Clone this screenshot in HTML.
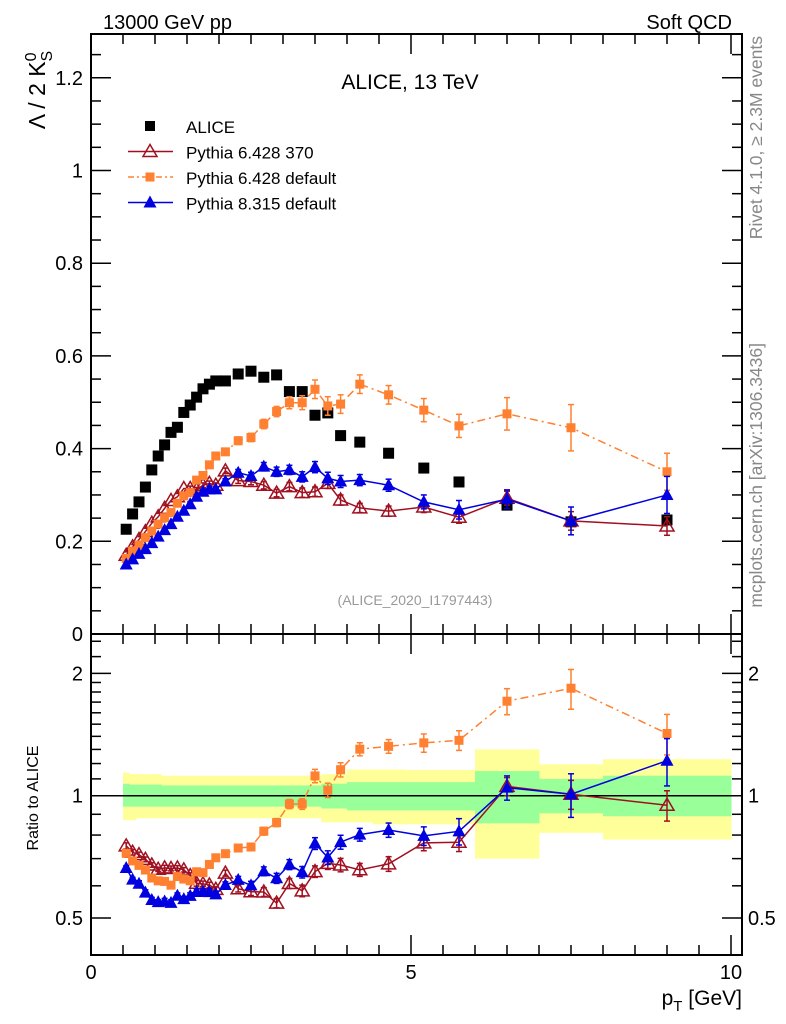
<!DOCTYPE html>
<html><head><meta charset="utf-8">
<style>
html,body{margin:0;padding:0;background:#fff;}
svg{display:block;font-family:"Liberation Sans",sans-serif;}
</style></head>
<body>
<svg id="chart" width="786" height="1024" viewBox="0 0 786 1024" xmlns="http://www.w3.org/2000/svg">
<g id="bands"></g>
<g id="grid"></g>
<g id="marks"></g>
<text x="103" y="29" font-size="20">13000 GeV pp</text>
<text x="732" y="29" font-size="20" text-anchor="end">Soft QCD</text>
<text x="410" y="89" font-size="21" text-anchor="middle">ALICE, 13 TeV</text>
<text x="415" y="605" font-size="14" fill="#999" text-anchor="middle">(ALICE_2020_I1797443)</text>
<text transform="translate(762,36) rotate(-90)" font-size="17.5" fill="#888" text-anchor="end">Rivet 4.1.0, ≥ 2.3M events</text>
<text transform="translate(762,343) rotate(-90)" font-size="17.5" fill="#888" text-anchor="end">mcplots.cern.ch [arXiv:1306.3436]</text>
<text transform="translate(45,90) rotate(-90)" font-size="23" text-anchor="middle">Λ / 2 K<tspan dy="-9" font-size="16">0</tspan><tspan dx="-9" dy="16" font-size="16">S</tspan></text>
<text transform="translate(38,798) rotate(-90)" font-size="16" text-anchor="middle">Ratio to ALICE</text>
<text x="742" y="1005" font-size="21" text-anchor="end">p<tspan dy="6" font-size="15">T</tspan><tspan dy="-6"> [GeV]</tspan></text>
<g id="legend"></g>
</svg>
<script>
const pT = [0.55,0.65,0.75,0.85,0.95,1.05,1.15,1.25,1.35,1.45,1.55,1.65,1.75,1.85,1.95,2.1,2.3,2.5,2.7,2.9,3.1,3.3,3.5,3.7,3.9,4.2,4.65,5.2,5.75,6.5,7.5,9.0];
const binLo = [0.5,0.6,0.7,0.8,0.9,1.0,1.1,1.2,1.3,1.4,1.5,1.6,1.7,1.8,1.9,2.0,2.2,2.4,2.6,2.8,3.0,3.2,3.4,3.6,3.8,4.0,4.4,4.9,5.5,6,7,8];
const binHi = [0.6,0.7,0.8,0.9,1.0,1.1,1.2,1.3,1.4,1.5,1.6,1.7,1.8,1.9,2.0,2.2,2.4,2.6,2.8,3.0,3.2,3.4,3.6,3.8,4.0,4.4,4.9,5.5,6.0,7,8,10];
const alice = [0.226,0.259,0.285,0.317,0.354,0.384,0.408,0.435,0.446,0.478,0.494,0.511,0.529,0.539,0.546,0.546,0.561,0.567,0.554,0.559,0.523,0.523,0.472,0.477,0.428,0.414,0.390,0.358,0.328,0.278,0.242,0.246];
const yellowHi = [1.14,1.13,1.13,1.13,1.13,1.13,1.12,1.12,1.12,1.12,1.12,1.12,1.12,1.12,1.12,1.12,1.12,1.12,1.12,1.12,1.12,1.12,1.12,1.13,1.13,1.16,1.16,1.157,1.157,1.30,1.195,1.23];
const yellowLo = [0.87,0.87,0.88,0.88,0.88,0.88,0.88,0.88,0.88,0.88,0.88,0.88,0.88,0.88,0.88,0.88,0.88,0.88,0.88,0.88,0.88,0.88,0.88,0.86,0.86,0.86,0.85,0.85,0.85,0.70,0.81,0.78];
const greenHi = [1.07,1.065,1.065,1.065,1.065,1.065,1.06,1.06,1.06,1.06,1.06,1.06,1.06,1.06,1.06,1.06,1.06,1.06,1.06,1.06,1.06,1.06,1.06,1.07,1.07,1.08,1.08,1.08,1.08,1.15,1.10,1.12];
const greenLo = [0.94,0.94,0.94,0.94,0.94,0.94,0.94,0.94,0.94,0.94,0.94,0.94,0.94,0.94,0.94,0.94,0.94,0.94,0.94,0.94,0.94,0.94,0.94,0.93,0.93,0.92,0.92,0.92,0.92,0.855,0.905,0.89];
const py6_370 = [0.170,0.188,0.204,0.221,0.239,0.253,0.271,0.288,0.296,0.314,0.314,0.311,0.321,0.325,0.321,0.352,0.331,0.329,0.321,0.304,0.318,0.305,0.307,0.325,0.289,0.272,0.265,0.274,0.252,0.293,0.244,0.233];
const py6_370err = [0.003,0.003,0.003,0.003,0.003,0.003,0.004,0.004,0.004,0.004,0.005,0.005,0.005,0.005,0.005,0.006,0.006,0.007,0.008,0.008,0.009,0.01,0.01,0.011,0.011,0.01,0.011,0.012,0.013,0.015,0.02,0.02];
const py6_def = [0.163,0.179,0.192,0.208,0.222,0.237,0.251,0.262,0.282,0.298,0.305,0.332,0.342,0.365,0.384,0.393,0.417,0.424,0.453,0.480,0.499,0.499,0.528,0.492,0.496,0.539,0.516,0.483,0.449,0.475,0.445,0.350];
const py6_defErr = [0.003,0.003,0.003,0.003,0.003,0.004,0.004,0.004,0.004,0.005,0.005,0.005,0.006,0.006,0.007,0.007,0.008,0.009,0.01,0.011,0.013,0.015,0.02,0.02,0.02,0.02,0.02,0.025,0.025,0.035,0.05,0.04];
const py8 = [0.150,0.161,0.173,0.183,0.196,0.210,0.224,0.237,0.253,0.266,0.280,0.296,0.307,0.312,0.312,0.329,0.348,0.341,0.361,0.350,0.354,0.339,0.360,0.336,0.329,0.332,0.321,0.285,0.268,0.291,0.244,0.300];
const py8err = [0.002,0.002,0.003,0.003,0.003,0.003,0.004,0.004,0.004,0.004,0.005,0.005,0.005,0.006,0.006,0.006,0.007,0.008,0.009,0.01,0.01,0.011,0.012,0.013,0.013,0.012,0.013,0.015,0.02,0.02,0.03,0.04];
const yTicks = [0,0.2,0.4,0.6,0.8,1,1.2];
const yTickLabels = ["0","0.2","0.4","0.6","0.8","1","1.2"];
const rTicks = [0.5,1,2];
const rTickLabels = ["0.5","1","2"];
const xTicks = [0,5,10];
const xTickLabels = ["0","5","10"];

const NS="http://www.w3.org/2000/svg";
const L=91,R=742,T=34,MID=634,B=955;
const X=v=>91+v*64;
const Y=v=>634-v*463.5;
const RY=v=>795.7-176.4*Math.log(v);
function mk(tag,attrs,parent){const e=document.createElementNS(NS,tag);for(const k in attrs)e.setAttribute(k,attrs[k]);parent.appendChild(e);return e;}
const bands=document.getElementById('bands'),grid=document.getElementById('grid'),marks=document.getElementById('marks'),legend=document.getElementById('legend');

for(let i=0;i<pT.length;i++){
  const y=mk('rect',{x:X(binLo[i]),y:RY(yellowHi[i]),width:X(binHi[i])-X(binLo[i])+0.5,height:RY(yellowLo[i])-RY(yellowHi[i]),fill:'#ffff99'},bands);
  
  
}
for(let i=0;i<pT.length;i++){
  const g=mk('rect',{x:X(binLo[i]),y:RY(greenHi[i]),width:X(binHi[i])-X(binLo[i])+0.5,height:RY(greenLo[i])-RY(greenHi[i]),fill:'#99ff99'},bands);
  
  
}
mk('line',{x1:L,x2:R,y1:RY(1),y2:RY(1),stroke:'#000','stroke-width':1.5},grid);

mk('rect',{x:L,y:T,width:R-L,height:MID-T,fill:'none',stroke:'#000','stroke-width':2},grid);
mk('rect',{x:L,y:MID,width:R-L,height:B-MID,fill:'none',stroke:'#000','stroke-width':2},grid);
for(let v=0;v<=1.29;v+=0.05){
  const major=Math.abs(v/0.2-Math.round(v/0.2))<1e-6;const len=major?20:10;const y=Y(v);
  mk('line',{x1:L,x2:L+len,y1:y,y2:y,stroke:'#000','stroke-width':1.5},grid);
  mk('line',{x1:R,x2:R-len,y1:y,y2:y,stroke:'#000','stroke-width':1.5},grid);
}
yTicks.forEach((v,i)=>{const t=mk('text',{x:L-8,y:Y(v)+7,'font-size':20,'text-anchor':'end'},grid);t.textContent=yTickLabels[i];

});
[0.5,0.6,0.7,0.8,0.9,1,1.1,1.2,1.3,1.4,1.5,1.6,1.7,1.8,1.9,2,2.2,2.4].forEach(v=>{
  const major=(v===0.5||v===1||v===2);const len=major?20:10;const y=RY(v);
  mk('line',{x1:L,x2:L+len,y1:y,y2:y,stroke:'#000','stroke-width':1.5},grid);
  mk('line',{x1:R,x2:R-len,y1:y,y2:y,stroke:'#000','stroke-width':1.5},grid);
});
rTicks.forEach((v,i)=>{
  const t=mk('text',{x:L-8,y:RY(v)+7,'font-size':20,'text-anchor':'end'},grid);t.textContent=rTickLabels[i];
  
  
  const t2=mk('text',{x:R+6,y:RY(v)+7,'font-size':20},grid);t2.textContent=rTickLabels[i];
  
  
});
for(let v=0;v<=10.1;v+=0.5){
  const major=Math.abs(v%5)<1e-6;const len=major?20:10;const x=X(v);
  [[MID,1],[B,-1],[T,1],[MID,-1]].forEach(([y0,d])=>mk('line',{x1:x,x2:x,y1:y0,y2:y0+d*len,stroke:'#000','stroke-width':1.5},grid));
}
xTicks.forEach((v,i)=>{const t=mk('text',{x:X(v),y:979,'font-size':20,'text-anchor':'middle'},grid);t.textContent=xTickLabels[i];

});

function marker(type,x,y,color,parent){
  if(type==='bigsq')return mk('rect',{x:x-5.5,y:y-5.5,width:11,height:11,fill:'#000'},parent);
  if(type==='sq')return mk('rect',{x:x-4.5,y:y-4.5,width:9,height:9,fill:color},parent);
  if(type==='otri')return mk('polygon',{points:`${x},${y-7} ${x-7},${y+5} ${x+7},${y+5}`,fill:'none',stroke:color,'stroke-width':1.5},parent);
  return mk('polygon',{points:`${x},${y-7} ${x-6.5},${y+5} ${x+6.5},${y+5}`,fill:color},parent);
}
function series(vals,errs,color,mtype,dash,name){
  const g=mk('g',{},marks);
  
  
  [[Y,v=>v],[RY,(v,i)=>v/alice[i]]].forEach(([f,tr])=>{
    const pts=vals.map((v,i)=>X(pT[i])+','+f(tr(v,i))).join(' ');
    const attrs={points:pts,fill:'none',stroke:color,'stroke-width':1.5};
    if(dash)attrs['stroke-dasharray']=dash;
    mk('polyline',attrs,g);
    vals.forEach((v,i)=>{
      const x=X(pT[i]);const hi=f(tr(v+errs[i],i)),lo=f(tr(v-errs[i],i));
      if(Math.abs(lo-hi)>4){mk('line',{x1:x,x2:x,y1:hi,y2:lo,stroke:color,'stroke-width':1.5},g);
        mk('line',{x1:x-3,x2:x+3,y1:hi,y2:hi,stroke:color,'stroke-width':1.5},g);
        mk('line',{x1:x-3,x2:x+3,y1:lo,y2:lo,stroke:color,'stroke-width':1.5},g);}
      const m=marker(mtype,x,f(tr(v,i)),color,g);
      
      
    });
  });
}
const ag=mk('g',{},marks);


alice.forEach((v,i)=>{const m=marker('bigsq',X(pT[i]),Y(v),'#000',ag);

});
series(py6_370,py6_370err,'#a01020','otri',null,'pythia6-370-series');
series(py6_def,py6_defErr,'#ff8030','sq','8,4,2,4','pythia6-default-series');
series(py8,py8err,'#0000e0','tri',null,'pythia8-default-series');

const entries=[['ALICE','#000','bigsq',null],['Pythia 6.428 370','#a01020','otri',null],['Pythia 6.428 default','#ff8030','sq','6,3,2,3'],['Pythia 8.315 default','#0000e0','tri',null]];
entries.forEach((e,i)=>{
  const y=126+i*25.5;
  const g=mk('g',{},legend);
  
  
  if(i>0){const a={x1:128,x2:173,y1:y,y2:y,stroke:e[1],'stroke-width':1.5};if(e[3])a['stroke-dasharray']=e[3];mk('line',a,g);}
  if(i===0)mk('rect',{x:145,y:y-5,width:10,height:10,fill:'#000'},g);else marker(e[2],150,y,e[1],g);
  const t=mk('text',{x:186,y:y+7,'font-size':17},g);t.textContent=e[0];
});
</script>
</body></html>
